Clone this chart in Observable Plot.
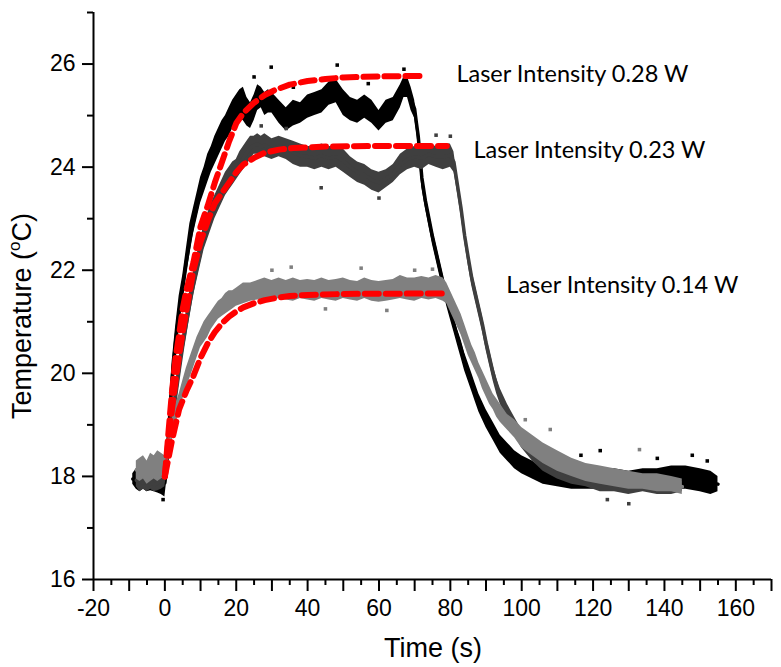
<!DOCTYPE html>
<html>
<head>
<meta charset="utf-8">
<script src="https://cdn.jsdelivr.net/npm/d3@7"></script>
<script src="https://cdn.jsdelivr.net/npm/@observablehq/plot@0.6"></script>
<style>
  html, body { margin: 0; padding: 0; background: #fff; }
</style>
</head>
<body>
<div id="chart"></div>
<script>
// ---------- data: [time (s), lower edge, upper edge] of each point cloud ----------
const band028 = [
  [-9,17.85,18.05],[-8,17.75,18.15],[-7,17.7,18.3],[-6,17.75,18.2],[-5,17.7,18.25],[-4,17.72,18.3],
  [-3,17.7,18.2],[-2,17.68,18.25],[-1,17.65,18.1],[0,17.6,18.15],[0.5,17.9,18.5],[1,18.5,19.1],
  [2,19.5,20.2],[3,20.3,20.9],[4,20.9,21.5],[5,21.4,21.9],[6,21.9,22.4],[7,22.3,22.9],[8,22.7,23.2],
  [9,23.0,23.5],[10,23.3,23.8],[11,23.5,24.0],[12,23.7,24.25],[13,23.9,24.4],[14,24.05,24.6],
  [15,24.2,24.75],[16,24.35,24.9],[17,24.5,25.0],[18,24.6,25.15],[19,24.75,25.3],[20,24.85,25.4],
  [21,24.95,25.5],[22,24.9,25.55],[23,24.8,25.35],[24,24.75,25.25],[25,24.9,25.4],[26,25.1,25.6],
  [27,25.15,25.55],[28,25.0,25.45],[29,25.05,25.5],[30,25.05,25.45],[32,24.85,25.3],[34,24.7,25.15],
  [36,24.8,25.3],[38,24.85,25.25],[40,24.95,25.4],[42,25.0,25.45],[44,25.05,25.5],[46,25.2,25.65],
  [48,25.25,25.7],[50,25.0,25.5],[52,24.9,25.35],[54,24.85,25.3],[56,24.95,25.4],[58,24.85,25.3],
  [60,24.7,25.1],[62,24.85,25.3],[64,24.9,25.35],[66,25.15,25.6],[67,25.35,25.75],[68,25.35,25.75],
  [69,25.1,25.55],[70,24.95,25.3],[70.5,24.7,25.0],[71,24.4,24.8],[71.5,24.0,24.4],[72,23.6,24.0],
  [73,23.2,23.5],[74,22.85,23.15],[75,22.5,22.8],[76,22.2,22.5],[77,21.9,22.2],[78,21.6,21.9],
  [79,21.3,21.6],[80,21.05,21.35],[81,20.8,21.1],[82,20.55,20.85],[83,20.3,20.65],[84,20.05,20.4],
  [85,19.85,20.2],[86,19.65,20.0],[87,19.45,19.8],[88,19.25,19.6],[89,19.1,19.45],[90,18.95,19.3],
  [92,18.7,19.05],[94,18.45,18.8],[96,18.3,18.65],[98,18.15,18.5],[100,18.05,18.4],[103,17.95,18.3],
  [106,17.85,18.15],[110,17.8,18.1],[114,17.75,18.05],[118,17.75,18.1],[122,17.75,18.1],[126,17.8,18.15],
  [130,17.75,18.1],[134,17.8,18.15],[138,17.8,18.15],[142,17.75,18.2],[146,17.75,18.2],[150,17.7,18.15],
  [153,17.65,18.1],[155,17.7,18.0]
];
const band023 = [
  [-8,17.8,18.05],[-7,17.7,18.1],[-6,17.75,18.0],[-5,17.7,18.05],[-4,17.75,18.1],[-3,17.7,17.95],
  [-2,17.72,18.05],[-1,17.75,18.1],[0,17.8,18.15],[1,18.3,18.8],[2,18.8,19.3],[3,19.3,19.8],
  [4,19.8,20.3],[5,20.3,20.75],[6,20.7,21.2],[7,21.1,21.6],[8,21.5,21.95],[9,21.8,22.3],[10,22.1,22.6],
  [11,22.4,22.9],[12,22.6,23.1],[13,22.8,23.3],[14,23.0,23.45],[15,23.15,23.6],[16,23.3,23.75],
  [17,23.45,23.9],[18,23.55,24.0],[19,23.65,24.1],[20,23.75,24.15],[21,23.85,24.3],[22,23.95,24.4],
  [23,24.05,24.5],[24,24.15,24.6],[25,24.25,24.6],[26,24.25,24.65],[27,24.2,24.6],[28,24.2,24.65],
  [30,24.15,24.55],[32,24.2,24.6],[34,24.15,24.55],[36,24.05,24.5],[38,24.0,24.45],[40,24.0,24.4],
  [42,23.95,24.4],[44,24.0,24.45],[46,23.95,24.4],[48,24.0,24.4],[50,23.9,24.35],[52,23.8,24.2],
  [54,23.7,24.1],[56,23.65,24.05],[58,23.55,23.95],[60,23.5,23.9],[62,23.6,23.95],[64,23.7,24.05],
  [66,23.85,24.25],[68,23.95,24.35],[70,24.0,24.4],[72,23.95,24.4],[74,24.05,24.45],[76,24.0,24.4],
  [78,23.95,24.45],[80,24.0,24.45],[81,23.9,24.3],[82,23.5,23.8],[83,23.05,23.35],[84,22.55,22.8],
  [85,22.1,22.4],[86,21.7,22.0],[87,21.4,21.7],[88,21.1,21.4],[89,20.8,21.1],[90,20.45,20.75],
  [91,20.15,20.45],[92,19.85,20.15],[93,19.6,19.9],[94,19.4,19.7],[95,19.25,19.55],[96,19.1,19.4],
  [98,18.8,19.15],[100,18.55,18.9],[103,18.3,18.65],[106,18.1,18.45],[110,17.95,18.3],[114,17.85,18.15],
  [118,17.8,18.1],[122,17.7,18.05],[126,17.7,18.0],[130,17.65,17.95],[134,17.7,18.0],[138,17.65,17.95],
  [142,17.65,17.95],[145,17.7,17.9]
];
const band014 = [
  [-8,17.95,18.3],[-7,17.9,18.35],[-6,17.95,18.4],[-5,17.85,18.3],[-4,17.9,18.45],[-3,17.95,18.4],
  [-2,17.9,18.5],[-1,17.95,18.45],[0,18.0,18.4],[1,18.4,18.8],[2,18.7,19.1],[3,19.0,19.4],
  [4,19.25,19.6],[5,19.5,19.85],[6,19.7,20.1],[7,19.9,20.3],[8,20.1,20.5],[9,20.3,20.7],[10,20.5,20.85],
  [11,20.6,21.0],[12,20.7,21.1],[13,20.85,21.2],[14,20.95,21.3],[15,21.05,21.4],[16,21.1,21.45],
  [17,21.15,21.55],[18,21.2,21.6],[19,21.25,21.6],[20,21.3,21.65],[22,21.35,21.75],[24,21.4,21.75],
  [26,21.42,21.8],[28,21.45,21.85],[30,21.4,21.8],[32,21.45,21.85],[34,21.42,21.8],[36,21.4,21.85],
  [38,21.45,21.8],[40,21.42,21.82],[42,21.4,21.8],[44,21.45,21.85],[46,21.42,21.8],[48,21.4,21.82],
  [50,21.45,21.85],[52,21.42,21.8],[54,21.4,21.78],[56,21.45,21.85],[58,21.4,21.8],[60,21.38,21.78],
  [62,21.4,21.8],[64,21.42,21.82],[66,21.45,21.9],[68,21.42,21.85],[70,21.4,21.85],[72,21.45,21.88],
  [74,21.42,21.85],[76,21.45,21.9],[78,21.4,21.85],[79,21.35,21.75],[80,21.2,21.6],[81,21.05,21.45],
  [82,20.9,21.3],[83,20.75,21.15],[84,20.55,20.95],[85,20.35,20.75],[86,20.2,20.55],[87,20.05,20.4],
  [88,19.9,20.2],[89,19.7,20.05],[90,19.55,19.9],[91,19.4,19.75],[92,19.3,19.6],[93,19.15,19.5],
  [94,19.05,19.4],[96,18.9,19.2],[98,18.75,19.1],[100,18.55,18.95],[103,18.4,18.8],[106,18.25,18.65],
  [110,18.1,18.5],[114,18.0,18.35],[118,17.9,18.25],[122,17.85,18.2],[126,17.8,18.15],[130,17.75,18.1],
  [134,17.75,18.05],[138,17.7,18.05],[142,17.7,18.0],[145,17.65,17.95]
];
// isolated points outside the clouds: [time, temperature]
const out028 = [[29.8,25.94],[48.3,25.98],[67,25.9],[25,25.75],[36,25.55],[57,25.62],[-0.5,17.55],
  [116.6,18.41],[122,18.5],[147.8,18.41],[138,18.35],[152,18.3],[107,18.35]];
const out023 = [[43.8,23.6],[80,24.6],[27,24.8],[76,24.62],[60,23.4],[130,17.47],[124,17.55],[34,24.75]];
const out014 = [[35.4,22.06],[55,22.04],[62.2,21.22],[70,22.0],[45,21.25],[101,19.1],[108,18.91],
  [133,18.52],[30,22.0],[75,22.02]];
// fitted curves (red dashed): [time, temperature]
const fit028 = [[0,18.0],[1,18.85],[2,19.65],[3,20.3],[4,20.75],[5,21.25],[6,21.6],[8,22.15],[10,22.85],
  [12,23.25],[14,23.7],[16,24.1],[18,24.5],[20,24.85],[22,25.05],[25,25.25],[28,25.4],[31,25.5],
  [35,25.6],[40,25.67],[45,25.71],[50,25.74],[60,25.76],[72.5,25.77]];
const fit023 = [[0,18.0],[1,18.7],[2,19.3],[3,19.85],[4,20.35],[5,20.8],[6,21.2],[7,21.6],[8,22.0],
  [10,22.55],[12,22.95],[14,23.3],[16,23.5],[18,23.7],[20,23.9],[22,24.05],[25,24.18],[28,24.28],
  [32,24.34],[36,24.37],[45,24.4],[60,24.41],[79,24.41]];
const fit014 = [[0,18.0],[2,18.7],[4,19.3],[6,19.65],[8,19.95],[10,20.3],[12,20.58],[14,20.8],
  [16,20.97],[18,21.1],[20,21.2],[22,21.28],[25,21.36],[28,21.42],[31,21.46],[35,21.5],[40,21.52],
  [50,21.54],[79,21.55]];
// labels
const seriesLabels = ["Laser Intensity 0.28 W", "Laser Intensity 0.23 W", "Laser Intensity 0.14 W"];
const labelX = [81.7, 86.5, 95.7];
const labelY = [25.8, 24.32, 21.7];
// ticks
const xLabelTicks = [-20, 0, 20, 40, 60, 80, 100, 120, 140, 160];
const xMidTicks = [-10, 10, 30, 50, 70, 90, 110, 130, 150, 170];
const xMinorTicks = [-15, -5, 5, 15, 25, 35, 45, 55, 65, 75, 85, 95, 105, 115, 125, 135, 145, 155, 165];
const yLabelTicks = [16, 18, 20, 22, 24, 26];
const yMinorTicks = [17, 19, 21, 23, 25, 27];

const colors = ["#000000", "#3f3f3f", "#808080"];

const toRows = b => b.map(([t, lo, hi]) => ({t, lo, hi, mid: (lo + hi) / 2}));
const bands = [toRows(band028), toRows(band023), toRows(band014)];
const outs = [out028, out023, out014];
const fits = [fit028, fit023, fit014];
const labels = seriesLabels.map((s, i) => ({s, x: labelX[i], y: labelY[i]}));

const axisFont = "'Liberation Sans', Arial, sans-serif";

const marks = [];
bands.forEach((b, i) => {
  marks.push(Plot.areaY(b, {x: "t", y1: "lo", y2: "hi", fill: colors[i], curve: "linear"}));
  marks.push(Plot.line(b, {x: "t", y: "mid", stroke: colors[i], strokeWidth: 3.5, curve: "linear"}));
  marks.push(Plot.dot(outs[i], {x: d => d[0], y: d => d[1], symbol: "square", r: 2, fill: colors[i], stroke: "none"}));
});
fits.forEach(f => {
  marks.push(Plot.line(f, {x: d => d[0], y: d => d[1], stroke: "#ff0000", strokeWidth: 6, strokeDasharray: "14,7", curve: "linear"}));
});
marks.push(Plot.text(labels, {x: "x", y: "y", text: "s", textAnchor: "start", lineAnchor: "middle",
  fontFamily: "Lato, 'Open Sans', sans-serif", fontSize: 23.5, fill: "#000"}));
// axes
marks.push(Plot.ruleX([-20], {stroke: "#000", strokeWidth: 2}));
marks.push(Plot.ruleY([16], {stroke: "#000", strokeWidth: 2}));
marks.push(Plot.axisX(xLabelTicks, {tickSize: 12, tickPadding: 8, strokeWidth: 2, fontSize: 23, fontFamily: axisFont, label: null, tickFormat: d => String(d)}));
marks.push(Plot.axisX(xMidTicks, {tickSize: 12, strokeWidth: 2, label: null, tickFormat: () => ""}));
marks.push(Plot.axisX(xMinorTicks, {tickSize: 6, strokeWidth: 2, label: null, tickFormat: () => ""}));
marks.push(Plot.axisY(yLabelTicks, {tickSize: 11, tickPadding: 7, strokeWidth: 2, fontSize: 23, fontFamily: axisFont, label: null, tickFormat: d => String(d)}));
marks.push(Plot.axisY(yMinorTicks, {tickSize: 6, strokeWidth: 2, label: null, tickFormat: () => ""}));

const svg = Plot.plot({
  width: 781,
  height: 667,
  marginLeft: 93,
  marginRight: 10,
  marginTop: 12,
  marginBottom: 88,
  x: {domain: [-20, 170]},
  y: {domain: [16, 27]},
  style: {fontFamily: axisFont, background: "#fff", color: "#000", overflow: "visible"},
  marks
});

const s = d3.select(svg);
s.append("text")
  .attr("x", 433).attr("y", 657)
  .attr("text-anchor", "middle")
  .attr("font-family", axisFont).attr("font-size", 27).attr("fill", "#000")
  .text("Time (s)");
const yt = s.append("text")
  .attr("transform", "translate(31,316) rotate(-90)")
  .attr("text-anchor", "middle")
  .attr("font-family", axisFont).attr("font-size", 27).attr("fill", "#000");
yt.append("tspan").text("Temperature (");
yt.append("tspan").attr("font-size", 17).attr("dy", -11).text("o");
yt.append("tspan").attr("dy", 11).text("C)");

document.getElementById("chart").appendChild(svg);
</script>
</body>
</html>
